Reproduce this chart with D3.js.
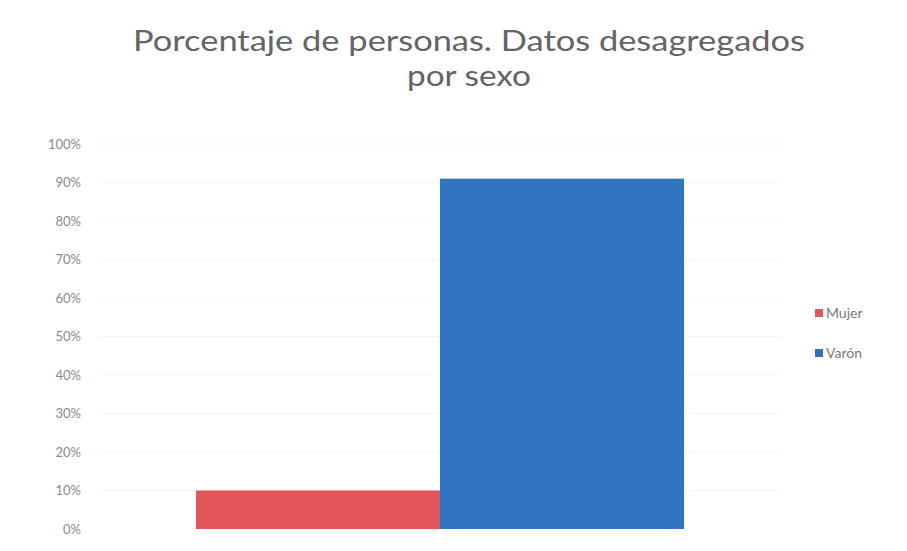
<!DOCTYPE html>
<html>
<head>
<meta charset="utf-8">
<script src="https://cdn.jsdelivr.net/npm/d3@7/dist/d3.min.js"></script>
<style>
  html, body { margin: 0; padding: 0; background: #fff; }
  svg { display: block; }
</style>
</head>
<body>
<svg id="chart" width="907" height="551"></svg>
<script>
// Percentage of people, split by sex
const categories = ["Personas"];
const seriesNames = ["Mujer", "Varón"];
const seriesValues = [10, 91];
const seriesColors = ["#e2555a", "#3074c1"];
const tickValues = [0, 10, 20, 30, 40, 50, 60, 70, 80, 90, 100];
const titleLines = ["Porcentaje de personas. Datos desagregados", "por sexo"];

const svg = d3.select("#chart");
const plot = { left: 98, right: 782, top: 144, bottom: 529 };

const y = d3.scaleLinear().domain([0, 100]).range([plot.bottom, plot.top]);

const x0 = d3.scaleBand().domain(categories)
  .range([plot.left, plot.right]).paddingInner(0).paddingOuter(0.2008);
const x1 = d3.scaleBand().domain(seriesNames)
  .range([0, x0.bandwidth()]).padding(0);
const color = d3.scaleOrdinal().domain(seriesNames).range(seriesColors);

const fontFamily = "Lato, 'Open Sans', sans-serif";

// faint horizontal gridlines
svg.append("g")
  .selectAll("line")
  .data(tickValues.filter(d => d > 0))
  .join("line")
  .attr("x1", plot.left).attr("x2", plot.right)
  .attr("y1", d => y(d)).attr("y2", d => y(d))
  .attr("stroke", "#f6f6f6").attr("stroke-width", 1);

// y axis labels
const yAxis = d3.axisLeft(y).tickValues(tickValues)
  .tickFormat(d => d + "%").tickSize(0).tickPadding(0);
const gy = svg.append("g").attr("transform", "translate(81,0)").call(yAxis);
gy.select(".domain").remove();
gy.selectAll("text")
  .attr("fill", "#8a8a8a")
  .style("font-family", fontFamily)
  .style("font-size", "13px");

// bars
const data = seriesNames.map((s, i) => ({ cat: categories[0], name: s, value: seriesValues[i] }));
svg.append("g")
  .selectAll("rect")
  .data(data)
  .join("rect")
  .attr("x", d => x0(d.cat) + x1(d.name))
  .attr("width", x1.bandwidth())
  .attr("y", d => y(d.value))
  .attr("height", d => y(0) - y(d.value))
  .attr("fill", d => color(d.name));

// title, two lines, glyphs widened to the title block width
const titleWidths = [672, 124];
svg.append("g")
  .selectAll("text")
  .data(titleLines)
  .join("text")
  .attr("x", 469)
  .attr("y", (d, i) => 51 + i * 35)
  .attr("text-anchor", "middle")
  .attr("textLength", (d, i) => titleWidths[i])
  .attr("lengthAdjust", "spacingAndGlyphs")
  .attr("fill", "#646464")
  .style("font-family", fontFamily)
  .style("font-size", "28px")
  .text(d => d);

// legend
const legend = svg.append("g").attr("transform", "translate(815,313)")
  .selectAll("g")
  .data(seriesNames)
  .join("g")
  .attr("transform", (d, i) => `translate(0,${i * 40})`);
legend.append("rect")
  .attr("x", 0).attr("y", -4).attr("width", 8).attr("height", 8)
  .attr("fill", d => color(d));
legend.append("text")
  .attr("x", 11).attr("y", 0).attr("dy", "0.35em")
  .attr("fill", "#7a7a7a")
  .style("font-family", fontFamily)
  .style("font-size", "14px")
  .text(d => d);
</script>
</body>
</html>
